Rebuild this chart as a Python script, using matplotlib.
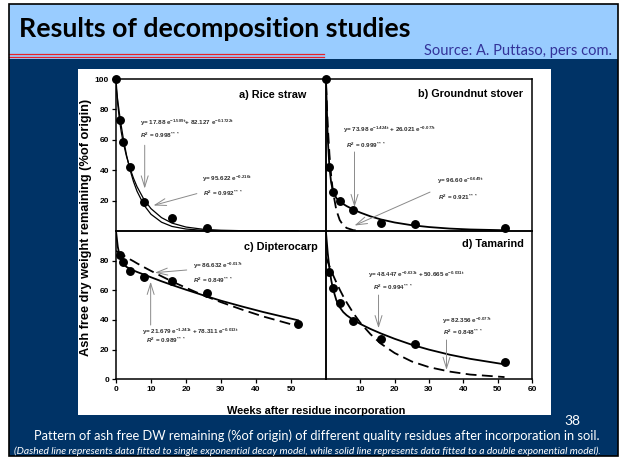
import matplotlib
matplotlib.use('Agg')
import matplotlib.pyplot as plt
from matplotlib.patches import Rectangle
from matplotlib.lines import Line2D

plt.rcParams['mathtext.fontset'] = 'custom'
plt.rcParams['mathtext.rm'] = 'Liberation Sans'
plt.rcParams['mathtext.it'] = 'Liberation Sans:italic:bold'
plt.rcParams['mathtext.bf'] = 'Liberation Sans:bold'

# ---------------- data ----------------
rice_t = [0, 1, 2, 4, 8, 16, 26]
rice_v = [100, 72.9, 58.6, 42.1, 18.8, 8.4, 1.8]
ground_t = [0, 1, 2, 4, 8, 16, 26, 52]
ground_v = [100, 42.1, 25.6, 19.5, 13.5, 5.1, 4.8, 1.8]
dipt_t = [1, 2, 4, 8, 16, 26, 52]
dipt_v = [84.0, 79.0, 73.2, 68.8, 66.3, 58.0, 37.5]
tam_t = [1, 2, 4, 8, 16, 26, 52]
tam_v = [72.2, 61.8, 51.7, 39.3, 27.0, 23.6, 11.5]

fit_t = [0, 0.5, 1, 1.5, 2, 3, 4, 5, 6, 8, 10, 13, 16, 20, 25, 30, 36, 42, 52]
rice_double = [100.0, 83.4, 72.8, 65.1, 58.9, 49.1, 41.3, 34.7, 29.2, 20.7, 14.7, 8.8, 5.2, 2.6, 1.1, 0.5, 0.2, 0.1, 0.0]
rice_single = [95.6, 85.8, 77.0, 69.2, 62.1, 50.0, 40.3, 32.5, 26.2, 17.0, 11.0, 5.8, 3.0, 1.3, 0.4, 0.1, 0.0, 0.0, 0.0]
ground_double = [100.0, 61.3, 41.9, 31.9, 26.6, 21.7, 19.4, 17.8, 16.4, 14.1, 12.1, 9.6, 7.6, 5.6, 3.8, 2.6, 1.6, 1.0, 0.5]
ground_single_t = [0, 0.5, 1, 1.5, 2, 3, 4, 5, 6, 8, 10]
ground_single = [96.6, 69.8, 50.5, 36.5, 26.4, 13.8, 7.2, 3.8, 2.0, 0.5, 0.15]
dipt_double = [100.0, 89.5, 83.6, 80.2, 78.1, 75.8, 74.5, 73.4, 72.4, 70.6, 68.8, 66.1, 63.6, 60.4, 56.6, 53.0, 49.1, 45.4, 39.8]
dipt_single = [86.6, 85.9, 85.2, 84.4, 83.7, 82.3, 80.9, 79.6, 78.2, 75.6, 73.1, 69.5, 66.0, 61.7, 56.6, 52.0, 47.0, 42.4, 35.8]
tam_double = [99.1, 85.2, 74.9, 67.1, 61.3, 53.4, 48.6, 45.4, 43.2, 39.9, 37.3, 33.9, 30.9, 27.3, 23.3, 20.0, 16.6, 13.8, 10.1]
tam_single = [82.4, 79.2, 76.3, 73.4, 70.6, 65.4, 60.5, 56.0, 51.9, 44.5, 38.1, 30.3, 24.0, 17.7, 12.0, 8.2, 5.2, 3.2, 1.5]

panel_titles = ['a) Rice straw', 'b) Groundnut stover', 'c) Dipterocarp', 'd) Tamarind']
top_yticks = [20, 40, 60, 80, 100]
bot_yticks = [0, 20, 40, 60, 80]
left_xticks = [0, 10, 20, 30, 40, 50]
right_xticks = [10, 20, 30, 40, 50, 60]

# ---------------- figure / slide ----------------
W, H = 619, 461
fig = plt.figure(figsize=(W / 100, H / 100), dpi=100)
fig.patch.set_facecolor('white')

def fx(x):
    return x / W

def fy(y):
    return 1 - y / H

def rect(x0, y0, x1, y1, **kw):
    fig.patches.append(Rectangle((fx(x0), fy(y1)), (x1 - x0) / W, (y1 - y0) / H,
                                 transform=fig.transFigure, **kw))

NAVY = '#003366'
rect(9, 4, 618, 456, facecolor=NAVY, edgecolor='none', zorder=0)
rect(9, 4, 618, 59, facecolor='#99CCFF', edgecolor='none', zorder=1)
rect(9, 4, 618, 456, facecolor='none', edgecolor='black', lw=1.2, zorder=3)
rect(77.5, 69, 551, 415, facecolor='white', edgecolor='none', zorder=1)
for yy in (54.3, 56.7):
    fig.lines.append(Line2D([fx(9), fx(324)], [fy(yy), fy(yy)], transform=fig.transFigure,
                            color='#E8202A', lw=0.9, zorder=2))

fig.canvas.draw()
R = fig.canvas.get_renderer()

def fit(t, width, vertical=False):
    bb = t.get_window_extent(R)
    cur = bb.height if vertical else bb.width
    t.set_fontsize(t.get_fontsize() * width / cur)

t = fig.text(fx(19), fy(29), 'Results of decomposition studies', fontsize=18, fontweight='bold',
             family='Lato', color='black', va='center', ha='left', zorder=4)
fit(t, 394)
t = fig.text(fx(612), fy(51), 'Source: A. Puttaso, pers com.', fontsize=9, family='Lato',
             color='#333399', va='center', ha='right', zorder=4)
fit(t, 188)
t = fig.text(fx(572), fy(421), '38', fontsize=10, family='Lato', color='white',
             va='center', ha='center', zorder=4)
t = fig.text(fx(317), fy(436), 'Pattern of ash free DW remaining (%of origin) of different quality residues after incorporation in soil.',
             fontsize=9, family='Lato', color='white', va='center', ha='center', zorder=4)
fit(t, 569)
t = fig.text(fx(307), fy(451.5), '(Dashed line represents data fitted to single exponential decay model, while solid line represents data fitted to a double exponential model).',
             fontsize=6, family='Lato', style='italic', color='white', va='center', ha='center', zorder=4)
fit(t, 590)

# ---------------- axes ----------------
def add_ax(x0, y0, x1, y1):
    ax = fig.add_axes([fx(x0), fy(y1), (x1 - x0) / W, (y1 - y0) / H], zorder=5)
    ax.set_xlim(0, 60)
    ax.set_ylim(0, 100)
    ax.set_facecolor('none')
    for s in ax.spines.values():
        s.set_linewidth(1.1)
        s.set_color('black')
    ax.tick_params(direction='out', length=3, width=0.9, labelsize=6, pad=2)
    return ax

ax_a = add_ax(116, 79, 326, 231)
ax_b = add_ax(326, 79, 532, 231)
ax_c = add_ax(116, 231, 326, 379.3)
ax_d = add_ax(326, 231, 532, 379.3)

ax_a.set_yticks(top_yticks)
ax_a.set_xticks([])
ax_b.set_xticks([]); ax_b.set_yticks([])
ax_c.set_yticks(bot_yticks)
ax_c.set_xticks(left_xticks)
ax_d.set_yticks([])
ax_d.set_xticks(right_xticks)
for ax in (ax_a, ax_c, ax_d):
    for lab in ax.get_xticklabels() + ax.get_yticklabels():
        lab.set_fontweight('bold')
        lab.set_family('Liberation Sans')

mk = dict(marker='o', ms=5.4, color='black', ls='none', clip_on=False, zorder=6)
ax_a.plot(fit_t, rice_double, color='black', lw=0.9)
ax_a.plot(fit_t, rice_single, color='black', lw=0.9)
ax_a.plot(rice_t, rice_v, **mk)

ax_b.plot(fit_t, ground_double, color='black', lw=1.3)
ax_b.plot(ground_single_t, ground_single, color='black', lw=1.3, dashes=(6, 3))
ax_b.plot(ground_t, ground_v, **mk)

ax_c.plot(fit_t, dipt_double, color='black', lw=1.3)
ax_c.plot(fit_t, dipt_single, color='black', lw=1.3, dashes=(6, 3))
ax_c.plot(dipt_t, dipt_v, **mk)

ax_d.plot(fit_t, tam_double, color='black', lw=1.3)
ax_d.plot(fit_t, tam_single, color='black', lw=1.3, dashes=(6, 3))
ax_d.plot(tam_t, tam_v, **mk)

tkw = dict(fontsize=7.8, fontweight='bold', family='Liberation Sans', ha='right', va='center')
ax_a.text(54.5, 89.5, panel_titles[0], **tkw)
ax_b.text(57.3, 90.1, panel_titles[1], **tkw)
ax_c.text(57.7, 89.4, panel_titles[2], **tkw)
ax_d.text(57.7, 91.2, panel_titles[3], **tkw)

EQ = '#2e2e2e'
ekw = dict(fontsize=4.5, color=EQ, ha='left', va='center', family='Liberation Sans',
           fontweight='bold')
akw = dict(arrowstyle='->,head_length=0.8,head_width=0.25', color='#8a8a8a', lw=0.7,
           shrinkA=0, shrinkB=0)

def eq(ax, x, y, s):
    ax.text(x, y, s, **ekw)

def arrow(ax, tail, head):
    ax.annotate('', xy=head, xytext=tail, arrowprops=akw)

# a) Rice straw
eq(ax_a, 6.9, 71.2, r'y= 17.88 e$^{\mathbf{-1.589t}}$+ 82.127 e$^{\mathbf{-0.1722t}}$')
eq(ax_a, 7.0, 62.6, r'$R^{\mathbf{2}}$ = 0.998$^{\mathbf{***}}$')
arrow(ax_a, (8.2, 56.4), (8.2, 27.9))
eq(ax_a, 24.5, 34.5, r'y= 95.622 e$^{\mathbf{-0.216t}}$')
eq(ax_a, 24.8, 25.0, r'$R^{\mathbf{2}}$ = 0.992$^{\mathbf{***}}$')
arrow(ax_a, (23.1, 24.6), (10.7, 16.8))

# b) Groundnut stover
eq(ax_b, 5.0, 66.8, r'y= 73.98 e$^{\mathbf{-1.424t}}$ + 26.021 e$^{\mathbf{-0.077t}}$')
eq(ax_b, 5.7, 56.4, r'$R^{\mathbf{2}}$ = 0.999$^{\mathbf{***}}$')
arrow(ax_b, (8.3, 52.0), (8.3, 15.7))
eq(ax_b, 32.4, 33.3, r'y= 96.60 e$^{\mathbf{-0.649t}}$')
eq(ax_b, 32.7, 22.3, r'$R^{\mathbf{2}}$ = 0.921$^{\mathbf{***}}$')
arrow(ax_b, (30.3, 25.6), (8.3, 3.6))

# c) Dipterocarp
eq(ax_c, 21.9, 76.6, r'y= 86.632 e$^{\mathbf{-0.017t}}$')
eq(ax_c, 21.9, 66.5, r'$R^{\mathbf{2}}$ = 0.849$^{\mathbf{***}}$')
arrow(ax_c, (20.2, 73.7), (11.1, 71.9))
eq(ax_c, 7.3, 32.1, r'y= 21.679 e$^{\mathbf{-1.241t}}$ + 78.311 e$^{\mathbf{-0.013t}}$')
eq(ax_c, 8.6, 26.0, r'$R^{\mathbf{2}}$ = 0.989$^{\mathbf{***}}$')
arrow(ax_c, (9.9, 36.6), (9.9, 65.8))

# d) Tamarind
eq(ax_d, 12.2, 70.3, r'y= 48.447 e$^{\mathbf{-0.633t}}$ + 50.665 e$^{\mathbf{-0.031t}}$')
eq(ax_d, 13.7, 62.0, r'$R^{\mathbf{2}}$ = 0.994$^{\mathbf{***}}$')
arrow(ax_d, (15.3, 56.8), (15.3, 34.4))
eq(ax_d, 33.7, 39.5, r'y= 82.356 e$^{\mathbf{-0.077t}}$')
eq(ax_d, 34.1, 31.4, r'$R^{\mathbf{2}}$ = 0.848$^{\mathbf{***}}$')
arrow(ax_d, (35.1, 26.5), (35.1, 6.3))

# axis labels
t = fig.text(fx(86), fy(227), 'Ash free dry weight remaining (%of origin)', rotation=90,
             fontsize=8, fontweight='bold', family='Liberation Sans', ha='center', va='center', zorder=6)
fit(t, 259, vertical=True)
t = fig.text(fx(316), fy(411), 'Weeks after residue incorporation', fontsize=8, fontweight='bold',
             family='Liberation Sans', ha='center', va='center', zorder=6)
fit(t, 178)

fig.savefig('out.png', dpi=100, facecolor='white')
